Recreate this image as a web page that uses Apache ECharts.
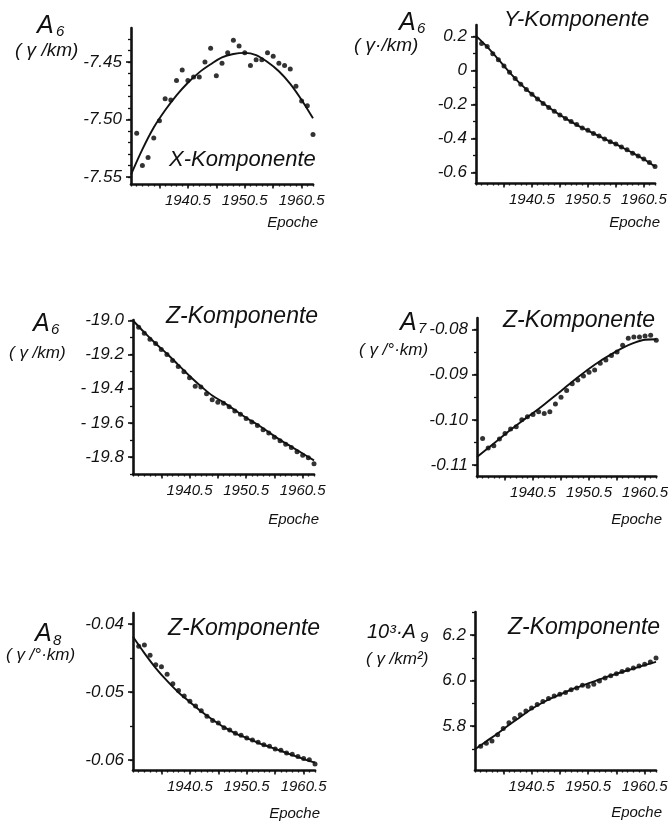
<!DOCTYPE html>
<html>
<head>
<meta charset="utf-8">
<script src="https://cdn.jsdelivr.net/npm/echarts@6/dist/echarts.min.js"></script>
<style>
  html, body { margin: 0; padding: 0; background: #fff; }
  #chart { width: 671px; height: 822px; }
</style>
</head>
<body>
<div id="chart"></div>
<script>
// Epochs of the yearly values and of the fitted curve
const pointYears = [1931.5, 1932.5, 1933.5, 1934.5, 1935.5, 1936.5, 1937.5, 1938.5, 1939.5, 1940.5,
  1941.5, 1942.5, 1943.5, 1944.5, 1945.5, 1946.5, 1947.5, 1948.5, 1949.5, 1950.5,
  1951.5, 1952.5, 1953.5, 1954.5, 1955.5, 1956.5, 1957.5, 1958.5, 1959.5, 1960.5,
  1961.5, 1962.5];
const curveYears = [1930.5, 1932.5, 1934.5, 1936.5, 1938.5, 1940.5, 1942.5, 1944.5, 1946.5,
  1948.5, 1950.5, 1952.5, 1954.5, 1956.5, 1958.5, 1960.5, 1962.5];

// Epoch axis ticks and labels
const epochLabels = [1940.5, 1950.5, 1960.5];
const epochMajorTicks = [1935.5, 1940.5, 1945.5, 1950.5, 1955.5, 1960.5];
const epochMinorTicks = [1930.5, 1931.5, 1932.5, 1933.5, 1934.5, 1935.5, 1936.5, 1937.5, 1938.5,
  1939.5, 1940.5, 1941.5, 1942.5, 1943.5, 1944.5, 1945.5, 1946.5, 1947.5, 1948.5, 1949.5,
  1950.5, 1951.5, 1952.5, 1953.5, 1954.5, 1955.5, 1956.5, 1957.5, 1958.5, 1959.5, 1960.5,
  1961.5, 1962.5];

// A6, X component
const a6xPoints = [-7.512, -7.540, -7.533, -7.516, -7.501, -7.482, -7.483, -7.466, -7.457, -7.466,
  -7.463, -7.463, -7.450, -7.438, -7.462, -7.451, -7.442, -7.431, -7.436, -7.442,
  -7.453, -7.448, -7.448, -7.442, -7.445, -7.451, -7.453, -7.456, -7.471, -7.484,
  -7.488, -7.513];
const a6xCurve = [-7.548, -7.526, -7.507, -7.492, -7.479, -7.468, -7.459, -7.452, -7.446,
  -7.443, -7.442, -7.444, -7.450, -7.458, -7.469, -7.483, -7.499];
const a6xTicks = [-7.55, -7.50, -7.45];
const a6xTickText = ['-7.55', '-7.50', '-7.45'];
const a6xMinor = [-7.55, -7.54, -7.53, -7.52, -7.51, -7.50, -7.49, -7.48, -7.47, -7.46, -7.45, -7.44, -7.43];

// A6, Y component
const a6yPoints = [0.160, 0.142, 0.100, 0.064, 0.027, -0.010, -0.046, -0.080, -0.111, -0.140,
  -0.168, -0.194, -0.217, -0.240, -0.262, -0.283, -0.300, -0.318, -0.338, -0.352,
  -0.371, -0.386, -0.403, -0.420, -0.433, -0.450, -0.467, -0.487, -0.503, -0.522,
  -0.542, -0.566];
const a6yCurve = [0.205, 0.140, 0.066, -0.010, -0.080, -0.140, -0.193, -0.240, -0.282,
  -0.320, -0.354, -0.387, -0.419, -0.451, -0.485, -0.523, -0.565];
const a6yTicks = [-0.6, -0.4, -0.2, 0, 0.2];
const a6yTickText = ['-0.6', '-0.4', '-0.2', '0', '0.2'];
const a6yMinor = [-0.6, -0.5, -0.4, -0.3, -0.2, -0.1, 0, 0.1, 0.2];

// A6, Z component
const a6zPoints = [-19.04, -19.075, -19.11, -19.135, -19.17, -19.20, -19.235, -19.27, -19.30, -19.335,
  -19.385, -19.39, -19.43, -19.465, -19.48, -19.485, -19.505, -19.53, -19.55, -19.575,
  -19.595, -19.615, -19.64, -19.66, -19.685, -19.705, -19.725, -19.745, -19.77, -19.79,
  -19.805, -19.84];
const a6zCurve = [-19.00, -19.07, -19.135, -19.195, -19.26, -19.325, -19.385, -19.44, -19.48,
  -19.525, -19.57, -19.61, -19.655, -19.70, -19.74, -19.78, -19.82];
const a6zTicks = [-19.8, -19.6, -19.4, -19.2, -19.0];
const a6zTickText = ['-19.8', '- 19.6', '- 19.4', '-19.2', '-19.0'];
const a6zMinor = [-19.9, -19.8, -19.7, -19.6, -19.5, -19.4, -19.3, -19.2, -19.1, -19.0];

// A7, Z component
const a7zPoints = [-0.1041, -0.1062, -0.1057, -0.1042, -0.1030, -0.1020, -0.1015, -0.1000, -0.0993, -0.0988,
  -0.0982, -0.0986, -0.0982, -0.0965, -0.0950, -0.0935, -0.0920, -0.0912, -0.0903, -0.0895,
  -0.0890, -0.0875, -0.0868, -0.0858, -0.0850, -0.0835, -0.0820, -0.0817, -0.0817, -0.0815,
  -0.0813, -0.0824];
const a7zCurve = [-0.1082, -0.1062, -0.1042, -0.1022, -0.1003, -0.0985, -0.0966, -0.0946, -0.0926,
  -0.0906, -0.0887, -0.0870, -0.0855, -0.0841, -0.0830, -0.0823, -0.0822];
const a7zTicks = [-0.11, -0.10, -0.09, -0.08];
const a7zTickText = ['-0.11', '-0.10', '-0.09', '-0.08'];
const a7zMinor = [-0.11, -0.105, -0.10, -0.095, -0.09, -0.085, -0.08];

// A8, Z component
const a8zPoints = [-0.0433, -0.0431, -0.0446, -0.0460, -0.0463, -0.0474, -0.0488, -0.0498, -0.0506, -0.0514,
  -0.0521, -0.0528, -0.0536, -0.0542, -0.0546, -0.0553, -0.0556, -0.0561, -0.0564, -0.0568,
  -0.0571, -0.0574, -0.0578, -0.0580, -0.0584, -0.0586, -0.0590, -0.0592, -0.0595, -0.0598,
  -0.0600, -0.0606];
const a8zCurve = [-0.0419, -0.0443, -0.0465, -0.0484, -0.0501, -0.0515, -0.0529, -0.0541, -0.0552,
  -0.0561, -0.0568, -0.0575, -0.0581, -0.0587, -0.0593, -0.0599, -0.0604];
const a8zTicks = [-0.06, -0.05, -0.04];
const a8zTickText = ['-0.06', '-0.05', '-0.04'];
const a8zMinor = [-0.06, -0.055, -0.05, -0.045, -0.04];

// 10^3 * A9, Z component
const a9zPoints = [5.712, 5.725, 5.735, 5.762, 5.790, 5.815, 5.834, 5.850, 5.866, 5.880,
  5.895, 5.908, 5.922, 5.932, 5.940, 5.948, 5.960, 5.968, 5.980, 5.975,
  5.984, 5.998, 6.012, 6.022, 6.030, 6.040, 6.048, 6.056, 6.064, 6.072,
  6.082, 6.100];
const a9zCurve = [5.698, 5.733, 5.768, 5.805, 5.840, 5.875, 5.904, 5.928, 5.950,
  5.970, 5.988, 6.005, 6.022, 6.038, 6.053, 6.068, 6.083];
const a9zTicks = [5.8, 6.0, 6.2];
const a9zTickText = ['5.8', '6.0', '6.2'];
const a9zMinor = [5.7, 5.8, 5.9, 6.0, 6.1, 6.2, 6.3];

const FONT = "'Liberation Sans', Arial, sans-serif";
const INK = '#111';

const panels = [
  { grid: [131, 28, 182, 156], range: [-7.5561, -7.4204], pts: a6xPoints, curve: a6xCurve,
    ticks: a6xTicks, tickText: a6xTickText, minor: a6xMinor },
  { grid: [476, 25, 179, 158], range: [-0.663, 0.269], pts: a6yPoints, curve: a6yCurve,
    ticks: a6yTicks, tickText: a6yTickText, minor: a6yMinor },
  { grid: [133, 320, 181, 154], range: [-19.90, -18.997], pts: a6zPoints, curve: a6zCurve,
    ticks: a6zTicks, tickText: a6zTickText, minor: a6zMinor },
  { grid: [477, 318, 180, 158], range: [-0.1124, -0.0775], pts: a7zPoints, curve: a7zCurve,
    ticks: a7zTicks, tickText: a7zTickText, minor: a7zMinor },
  { grid: [133, 613, 182, 157], range: [-0.0615, -0.0384], pts: a8zPoints, curve: a8zCurve,
    ticks: a8zTicks, tickText: a8zTickText, minor: a8zMinor },
  { grid: [475, 612, 181, 158], range: [5.607, 6.302], pts: a9zPoints, curve: a9zCurve,
    ticks: a9zTicks, tickText: a9zTickText, minor: a9zMinor }
];

const grids = [], xAxes = [], yAxes = [], series = [];
const lineStyle = { color: INK, width: 2.6 };

panels.forEach((p, i) => {
  grids.push({ left: p.grid[0], top: p.grid[1], width: p.grid[2], height: p.grid[3] });
  // main epoch axis: line, 5-year ticks, labels every 10 years
  xAxes.push({
    type: 'value', gridIndex: i, position: 'bottom', min: 1930.5, max: 1962.5,
    axisLine: { show: true, onZero: false, lineStyle },
    axisTick: { show: true, length: 4.5, customValues: epochMajorTicks, lineStyle: { color: INK, width: 1.6 } },
    axisLabel: { show: true, customValues: epochLabels, margin: 9, color: INK,
      fontFamily: FONT, fontStyle: 'italic', fontSize: 15, formatter: v => v.toFixed(1) },
    splitLine: { show: false }
  });
  // yearly minor ticks
  xAxes.push({
    type: 'value', gridIndex: i, position: 'bottom', min: 1930.5, max: 1962.5,
    axisLine: { show: false, onZero: false },
    axisTick: { show: true, length: 2.5, customValues: epochMinorTicks, lineStyle: { color: INK, width: 1.3 } },
    axisLabel: { show: false }, splitLine: { show: false }
  });
  yAxes.push({
    type: 'value', gridIndex: i, position: 'left', min: p.range[0], max: p.range[1],
    axisLine: { show: true, onZero: false, lineStyle },
    axisTick: { show: true, length: 5, customValues: p.ticks, lineStyle: { color: INK, width: 1.6 } },
    axisLabel: { show: true, customValues: p.ticks, margin: 9, color: INK,
      fontFamily: FONT, fontStyle: 'italic', fontSize: 17,
      formatter: v => p.tickText[p.ticks.findIndex(t => Math.abs(t - v) < 1e-9)] },
    splitLine: { show: false }
  });
  yAxes.push({
    type: 'value', gridIndex: i, position: 'left', min: p.range[0], max: p.range[1],
    axisLine: { show: false, onZero: false },
    axisTick: { show: true, length: 3, customValues: p.minor, lineStyle: { color: INK, width: 1.3 } },
    axisLabel: { show: false }, splitLine: { show: false }
  });
  series.push({
    type: 'line', xAxisIndex: 2 * i, yAxisIndex: 2 * i, smooth: 0.35,
    showSymbol: false, silent: true, lineStyle: { color: INK, width: 1.9 },
    data: curveYears.map((x, k) => [x, p.curve[k]])
  });
  series.push({
    type: 'scatter', xAxisIndex: 2 * i, yAxisIndex: 2 * i, symbol: 'circle', symbolSize: 5,
    itemStyle: { color: '#000' }, silent: true,
    data: pointYears.map((x, k) => [x, p.pts[k]])
  });
});

// text helpers
function txt(x, y, s, size) {
  return {
    type: 'text', x, y, silent: true,
    style: { text: s, fill: INK, font: 'italic ' + size + 'px ' + FONT,
      textAlign: 'left', textVerticalAlign: 'middle' }
  };
}
function right(x, y, s, size) {
  const t = txt(x, y, s, size);
  t.style.textAlign = 'right';
  return t;
}

const graphics = [
  // panel 1
  txt(37, 26, 'A', 25), txt(56, 32, '6', 15), txt(15, 51, '( γ /km)', 19),
  txt(169, 160, 'X-Komponente', 22), right(318, 223, 'Epoche', 15),
  // panel 2
  txt(399, 23, 'A', 25), txt(417, 29, '6', 15), txt(354, 46, '( γ·/km)', 19),
  txt(504, 20, 'Y-Komponente', 22), right(660, 223, 'Epoche', 15),
  // panel 3
  txt(33, 324, 'A', 25), txt(51, 330, '6', 15), txt(9, 353, '( γ /km)', 17),
  txt(166, 317, 'Z-Komponente', 23), right(319, 520, 'Epoche', 15),
  // panel 4
  txt(400, 323, 'A', 25), txt(418, 329, '7', 15), txt(359, 350, '( γ /°·km)', 17),
  txt(503, 321, 'Z-Komponente', 23), right(662, 520, 'Epoche', 15),
  // panel 5
  txt(35, 634, 'A', 25), txt(53, 641, '8', 15), txt(6, 655, '( γ /°·km)', 17),
  txt(168, 629, 'Z-Komponente', 23), right(320, 814, 'Epoche', 15),
  // panel 6
  txt(367, 632, '10³·A', 20), txt(420, 638, '9', 15), txt(366, 659, '( γ /km²)', 17),
  txt(508, 628, 'Z-Komponente', 23), right(662, 813, 'Epoche', 15)
];

const chart = echarts.init(document.getElementById('chart'), null, { renderer: 'canvas' });
chart.setOption({
  animation: false,
  backgroundColor: '#fff',
  grid: grids,
  xAxis: xAxes,
  yAxis: yAxes,
  series: series,
  graphic: graphics
});
</script>
</body>
</html>
